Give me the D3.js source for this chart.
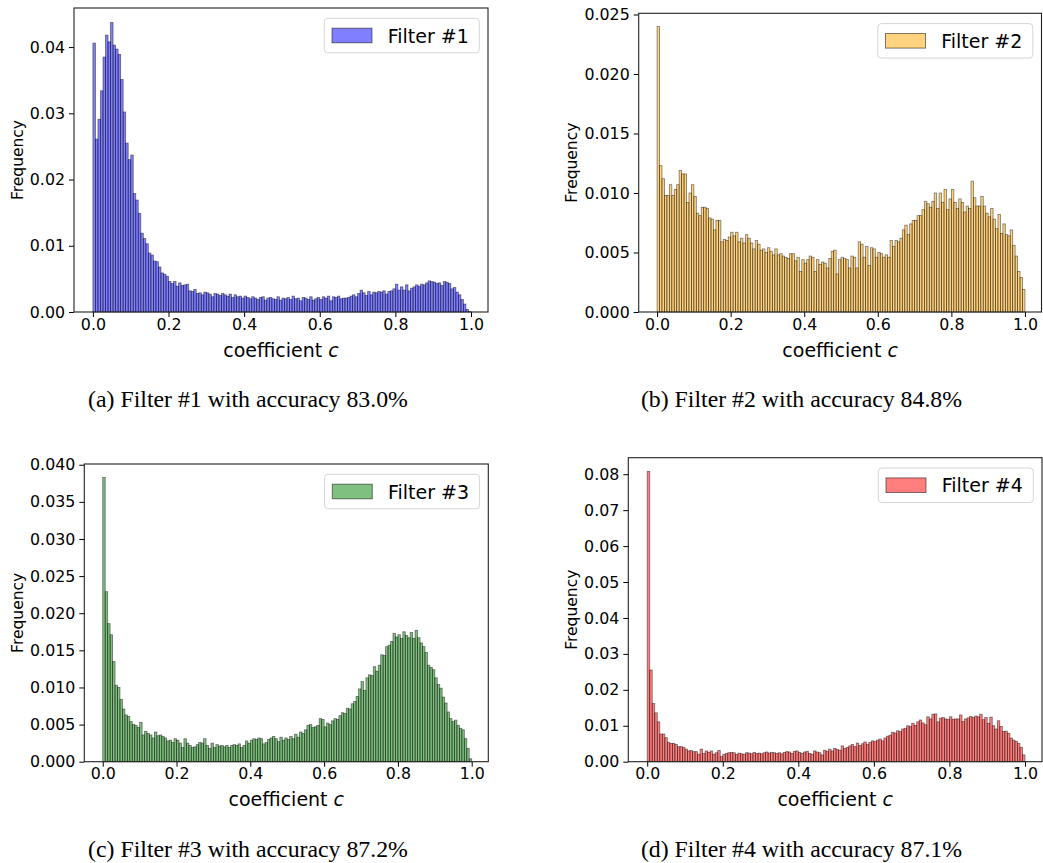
<!DOCTYPE html>
<html>
<head>
<meta charset="utf-8">
<script src="https://cdn.jsdelivr.net/npm/d3@7"></script>
<style>
  body { margin: 0; background: white; }
  svg text { font-family: "DejaVu Sans", sans-serif; fill: black; }
  svg text.caption { font-family: "Liberation Serif", "Times New Roman", serif; }
</style>
</head>
<body>
<div id="chart"></div>
<script>
// histogram bins: 150 equal bins over [0, 1]
const bin_count = 150;
const x_ticks = [0, 0.2, 0.4, 0.6, 0.8, 1.0];

const filter1_freq = [
  0.0406, 0.0261, 0.0291, 0.0334, 0.0385, 0.0418, 0.0408, 0.0437, 0.0403, 0.0397, 0.0389, 0.0351, 0.0302, 0.0255, 0.0230,
  0.0237, 0.0179, 0.0169, 0.0149, 0.0119, 0.0111, 0.0103, 0.0089, 0.0086, 0.0077, 0.0076, 0.0068, 0.0059, 0.0057, 0.0054,
  0.0046, 0.0043, 0.0046, 0.0039, 0.0044, 0.0040, 0.0041, 0.0042, 0.0032, 0.0031, 0.0034, 0.0028, 0.0029, 0.0026, 0.0030,
  0.0029, 0.0027, 0.0023, 0.0028, 0.0027, 0.0025, 0.0028, 0.0026, 0.0024, 0.0027, 0.0022, 0.0026, 0.0023, 0.0024, 0.0021,
  0.0024, 0.0022, 0.0020, 0.0023, 0.0021, 0.0019, 0.0022, 0.0023, 0.0018, 0.0021, 0.0022, 0.0020, 0.0019, 0.0023, 0.0018,
  0.0021, 0.0020, 0.0022, 0.0019, 0.0024, 0.0020, 0.0021, 0.0017, 0.0022, 0.0021, 0.0019, 0.0023, 0.0018, 0.0020, 0.0022,
  0.0019, 0.0023, 0.0021, 0.0024, 0.0017, 0.0023, 0.0022, 0.0024, 0.0020, 0.0021, 0.0021, 0.0022, 0.0024, 0.0026, 0.0023,
  0.0028, 0.0033, 0.0029, 0.0025, 0.0031, 0.0026, 0.0030, 0.0029, 0.0031, 0.0030, 0.0032, 0.0027, 0.0031, 0.0032, 0.0035,
  0.0042, 0.0033, 0.0038, 0.0033, 0.0041, 0.0032, 0.0036, 0.0038, 0.0041, 0.0039, 0.0042, 0.0041, 0.0044, 0.0047, 0.0046,
  0.0045, 0.0043, 0.0044, 0.0040, 0.0046, 0.0045, 0.0043, 0.0035, 0.0037, 0.0030, 0.0026, 0.0019, 0.0012, 0.0004, 0.0001
];

const filter2_freq = [
  0.0240, 0.0123, 0.0112, 0.0098, 0.0098, 0.0107, 0.0098, 0.0103, 0.0107, 0.0119, 0.0116, 0.0116, 0.0092, 0.0100, 0.0107,
  0.0097, 0.0083, 0.0081, 0.0088, 0.0088, 0.0087, 0.0079, 0.0078, 0.0069, 0.0077, 0.0077, 0.0059, 0.0061, 0.0060, 0.0063,
  0.0067, 0.0064, 0.0067, 0.0059, 0.0062, 0.0058, 0.0065, 0.0062, 0.0058, 0.0053, 0.0060, 0.0057, 0.0052, 0.0053, 0.0050,
  0.0054, 0.0051, 0.0048, 0.0053, 0.0048, 0.0049, 0.0047, 0.0046, 0.0045, 0.0049, 0.0049, 0.0043, 0.0046, 0.0034, 0.0044,
  0.0041, 0.0044, 0.0047, 0.0046, 0.0034, 0.0044, 0.0040, 0.0042, 0.0041, 0.0037, 0.0045, 0.0051, 0.0052, 0.0032, 0.0044,
  0.0046, 0.0045, 0.0044, 0.0037, 0.0047, 0.0046, 0.0037, 0.0059, 0.0057, 0.0046, 0.0055, 0.0039, 0.0054, 0.0053, 0.0046,
  0.0050, 0.0049, 0.0046, 0.0048, 0.0046, 0.0060, 0.0055, 0.0060, 0.0059, 0.0062, 0.0069, 0.0073, 0.0065, 0.0074, 0.0077,
  0.0077, 0.0081, 0.0081, 0.0086, 0.0093, 0.0091, 0.0088, 0.0093, 0.0100, 0.0087, 0.0100, 0.0092, 0.0103, 0.0086, 0.0095,
  0.0103, 0.0092, 0.0087, 0.0095, 0.0092, 0.0084, 0.0089, 0.0087, 0.0110, 0.0096, 0.0089, 0.0089, 0.0097, 0.0089, 0.0083,
  0.0080, 0.0087, 0.0078, 0.0070, 0.0082, 0.0066, 0.0074, 0.0065, 0.0064, 0.0069, 0.0056, 0.0047, 0.0034, 0.0029, 0.0019
];

const filter3_freq = [
  0.0383, 0.0229, 0.0186, 0.0171, 0.0135, 0.0103, 0.0100, 0.0084, 0.0071, 0.0063, 0.0061, 0.0054, 0.0050, 0.0049, 0.0046,
  0.0053, 0.0036, 0.0041, 0.0038, 0.0036, 0.0032, 0.0040, 0.0035, 0.0036, 0.0034, 0.0032, 0.0028, 0.0029, 0.0026, 0.0031,
  0.0029, 0.0025, 0.0019, 0.0031, 0.0025, 0.0022, 0.0019, 0.0020, 0.0023, 0.0026, 0.0025, 0.0031, 0.0022, 0.0018, 0.0025,
  0.0019, 0.0023, 0.0021, 0.0022, 0.0020, 0.0022, 0.0019, 0.0022, 0.0023, 0.0022, 0.0024, 0.0019, 0.0022, 0.0028, 0.0025,
  0.0029, 0.0031, 0.0030, 0.0032, 0.0031, 0.0024, 0.0026, 0.0030, 0.0032, 0.0034, 0.0031, 0.0027, 0.0033, 0.0029, 0.0032,
  0.0030, 0.0034, 0.0031, 0.0037, 0.0033, 0.0040, 0.0038, 0.0043, 0.0049, 0.0050, 0.0046, 0.0047, 0.0049, 0.0058, 0.0057,
  0.0047, 0.0052, 0.0050, 0.0055, 0.0058, 0.0057, 0.0062, 0.0066, 0.0065, 0.0072, 0.0071, 0.0078, 0.0081, 0.0088, 0.0098,
  0.0108, 0.0096, 0.0113, 0.0117, 0.0116, 0.0128, 0.0122, 0.0130, 0.0144, 0.0143, 0.0155, 0.0157, 0.0162, 0.0173, 0.0168,
  0.0171, 0.0166, 0.0175, 0.0170, 0.0167, 0.0174, 0.0166, 0.0177, 0.0167, 0.0160, 0.0155, 0.0147, 0.0130, 0.0127, 0.0124,
  0.0113, 0.0104, 0.0099, 0.0087, 0.0079, 0.0067, 0.0058, 0.0054, 0.0056, 0.0049, 0.0045, 0.0043, 0.0031, 0.0018, 0.0004
];

const filter4_freq = [
  0.0808, 0.0255, 0.0162, 0.0136, 0.0111, 0.0077, 0.0077, 0.0067, 0.0054, 0.0051, 0.0051, 0.0048, 0.0042, 0.0042, 0.0040,
  0.0035, 0.0030, 0.0031, 0.0028, 0.0028, 0.0021, 0.0035, 0.0023, 0.0030, 0.0026, 0.0030, 0.0021, 0.0025, 0.0031, 0.0014,
  0.0020, 0.0023, 0.0025, 0.0026, 0.0025, 0.0020, 0.0024, 0.0022, 0.0021, 0.0025, 0.0024, 0.0022, 0.0026, 0.0023, 0.0024,
  0.0022, 0.0025, 0.0027, 0.0024, 0.0026, 0.0025, 0.0023, 0.0025, 0.0022, 0.0026, 0.0028, 0.0027, 0.0023, 0.0029, 0.0030,
  0.0026, 0.0023, 0.0027, 0.0029, 0.0023, 0.0021, 0.0030, 0.0027, 0.0025, 0.0019, 0.0032, 0.0029, 0.0035, 0.0030, 0.0037,
  0.0034, 0.0032, 0.0044, 0.0037, 0.0040, 0.0044, 0.0048, 0.0042, 0.0052, 0.0045, 0.0050, 0.0055, 0.0048, 0.0054, 0.0058,
  0.0056, 0.0060, 0.0063, 0.0058, 0.0066, 0.0071, 0.0074, 0.0082, 0.0080, 0.0086, 0.0084, 0.0091, 0.0093, 0.0100, 0.0098,
  0.0107, 0.0101, 0.0111, 0.0116, 0.0108, 0.0103, 0.0125, 0.0119, 0.0132, 0.0133, 0.0111, 0.0121, 0.0123, 0.0119, 0.0118,
  0.0125, 0.0118, 0.0119, 0.0119, 0.0130, 0.0112, 0.0119, 0.0122, 0.0126, 0.0123, 0.0127, 0.0125, 0.0132, 0.0117, 0.0123,
  0.0107, 0.0124, 0.0100, 0.0091, 0.0114, 0.0098, 0.0084, 0.0085, 0.0079, 0.0066, 0.0060, 0.0057, 0.0051, 0.0040, 0.0019
];

const y_ticks_1 = [0, 0.01, 0.02, 0.03, 0.04];
const y_ticks_2 = [0, 0.005, 0.010, 0.015, 0.020, 0.025];
const y_ticks_3 = [0, 0.005, 0.010, 0.015, 0.020, 0.025, 0.030, 0.035, 0.040];
const y_ticks_4 = [0, 0.01, 0.02, 0.03, 0.04, 0.05, 0.06, 0.07, 0.08];

const legend_labels = ["Filter #1", "Filter #2", "Filter #3", "Filter #4"];
const captions = [
  "(a) Filter #1 with accuracy 83.0%",
  "(b) Filter #2 with accuracy 84.8%",
  "(c) Filter #3 with accuracy 87.2%",
  "(d) Filter #4 with accuracy 87.1%"
];

// layout of the four subplots (pixel boxes, y domain top, look)
const panels = [
  {values: filter1_freq, ticks: y_ticks_1, fmt: ".2f", ymax: 0.0459, color: "blue",
   left: 74, right: 488, top: 8, bottom: 312, ylabel_x: 18, cap_x: 248, cap_y: 406.5},
  {values: filter2_freq, ticks: y_ticks_2, fmt: ".3f", ymax: 0.0251, color: "orange",
   left: 638.7, right: 1041.5, top: 13.3, bottom: 312, ylabel_x: 571.7, cap_x: 801.5, cap_y: 406.5},
  {values: filter3_freq, ticks: y_ticks_3, fmt: ".3f", ymax: 0.0401, color: "green",
   left: 84.3, right: 488.3, top: 464, bottom: 761.7, ylabel_x: 18, cap_x: 248, cap_y: 856.5},
  {values: filter4_freq, ticks: y_ticks_4, fmt: ".2f", ymax: 0.0846, color: "red",
   left: 628.3, right: 1042, top: 457.7, bottom: 761.7, ylabel_x: 571.7, cap_x: 801.5, cap_y: 856.5}
];

const width = 1043, height = 863;

const svg = d3.select("#chart")
  .append("svg")
  .attr("width", width)
  .attr("height", height)
;

svg.append("rect")
  .attr("width", "100%")
  .attr("height", "100%")
  .attr("fill", "white")
;

panels.forEach((p, k) => draw_panel(p, k));

function draw_panel(p, k) {
  const x = d3.scaleLinear().domain([-0.05, 1.045]).range([p.left, p.right]);
  const y = d3.scaleLinear().domain([0, p.ymax]).range([p.bottom, p.top]);
  const g = svg.append("g").attr("class", "panel panel_" + (k + 1));

  let bins = p.values.map((v, i) => ({x0: i / bin_count, x1: (i + 1) / bin_count, v: v}));

  g.append("g")
    .attr("class", "bars")
    .selectAll("rect")
    .data(bins)
    .enter()
    .append("rect")
    .attr("x", d => x(d.x0))
    .attr("width", d => x(d.x1) - x(d.x0))
    .attr("y", d => y(d.v))
    .attr("height", d => y(0) - y(d.v))
    .attr("fill", p.color)
    .attr("fill-opacity", 0.5)
    .attr("stroke", "black")
    .attr("stroke-opacity", 0.5)
    .attr("stroke-width", 0.8)
  ;

  let xaxis = g.append("g")
    .attr("transform", "translate(0," + p.bottom + ")")
    .call(d3.axisBottom(x).tickValues(x_ticks).tickFormat(d3.format(".1f")).tickSize(5).tickSizeOuter(0).tickPadding(1.5))
  ;
  let yaxis = g.append("g")
    .attr("transform", "translate(" + p.left + ",0)")
    .call(d3.axisLeft(y).tickValues(p.ticks).tickFormat(d3.format(p.fmt)).tickSize(5).tickSizeOuter(0).tickPadding(4))
  ;
  [xaxis, yaxis].forEach(a => {
    a.select(".domain").remove();
    a.attr("font-family", null).attr("font-size", null);
    a.selectAll("line").attr("stroke", "black").attr("stroke-width", 1);
    a.selectAll("text").style("font-size", "15.8px");
  });

  // frame
  g.append("rect")
    .attr("x", p.left)
    .attr("y", p.top)
    .attr("width", p.right - p.left)
    .attr("height", p.bottom - p.top)
    .attr("fill", "none")
    .attr("stroke", "#222")
    .attr("stroke-width", 1.1)
  ;

  g.append("text")
    .attr("transform", "translate(" + p.ylabel_x + "," + ((p.top + p.bottom) / 2) + ") rotate(-90)")
    .attr("text-anchor", "middle")
    .attr("dominant-baseline", "central")
    .style("font-size", "15.5px")
    .text("Frequency")
  ;

  let xlabel = g.append("text")
    .attr("x", (p.left + p.right) / 2)
    .attr("y", p.bottom + 44.5)
    .attr("text-anchor", "middle")
    .style("font-size", "19px")
    .text("coefficient ")
  ;
  xlabel.append("tspan").style("font-style", "italic").text("c");

  // legend
  let lx = p.right - 163.7, ly = p.top + 10.3;
  let legend = g.append("g").attr("transform", "translate(" + lx + "," + ly + ")");
  legend.append("rect")
    .attr("width", 155)
    .attr("height", 34.5)
    .attr("rx", 3.5)
    .attr("fill", "white")
    .attr("fill-opacity", 0.8)
    .attr("stroke", "#d6d6d6")
    .attr("stroke-width", 1)
  ;
  legend.append("rect")
    .attr("x", 7.7)
    .attr("y", 9.9)
    .attr("width", 40)
    .attr("height", 14.6)
    .attr("fill", p.color)
    .attr("fill-opacity", 0.5)
    .attr("stroke", "black")
    .attr("stroke-opacity", 0.5)
    .attr("stroke-width", 1)
  ;
  legend.append("text")
    .attr("x", 63.4)
    .attr("y", 17.3)
    .attr("dominant-baseline", "central")
    .style("font-size", "19px")
    .text(legend_labels[k])
  ;

  svg.append("text")
    .attr("class", "caption")
    .attr("x", p.cap_x)
    .attr("y", p.cap_y)
    .attr("text-anchor", "middle")
    .style("font-size", "23.8px")
    .text(captions[k])
  ;
}
</script>
</body>
</html>
